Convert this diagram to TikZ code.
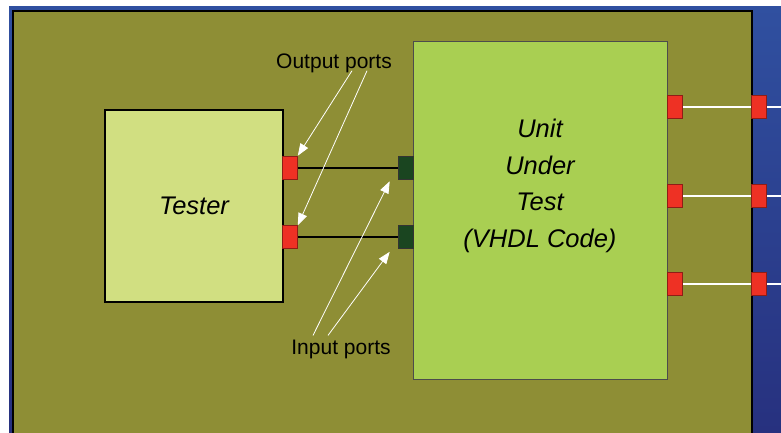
\documentclass[tikz,border=0pt]{standalone}
\usepackage{fontspec}
\setmainfont{Liberation Sans}
\usepackage{xcolor}
\usepackage{tikz}
\usetikzlibrary{arrows.meta,positioning,calc}
\definecolor{bluetop}{HTML}{3050A0}
\definecolor{bluebot}{HTML}{27317F}
\definecolor{olive}{HTML}{8E8E35}
\definecolor{testerfill}{HTML}{D1DF81}
\definecolor{uutfill}{HTML}{A9CF52}
\definecolor{portred}{HTML}{EE3124}
\definecolor{portgreen}{HTML}{1A4520}
\tikzset{
  blk/.style={draw=black,align=center,inner sep=0pt,
              font=\itshape\fontsize{25.5}{36.5}\selectfont},
  tester/.style={blk,fill=testerfill,line width=1.8pt,minimum width=178pt,minimum height=192pt},
  uut/.style={blk,fill=uutfill,draw=black!70,line width=0.6pt,minimum width=254pt,minimum height=338pt},
  outport/.style={draw=portred!60!black,fill=portred,line width=0.6pt,minimum width=15pt,minimum height=23pt,inner sep=0pt},
  inport/.style={outport,draw=black!80,fill=portgreen},
  lbl/.style={inner sep=0pt,font=\fontsize{21}{24}\selectfont},
  wire/.style={line width=2pt,black},
  wwire/.style={line width=2pt,white},
  ptr/.style={-{Triangle[length=12pt,width=9pt]},white,line width=0.8pt},
}
\begin{document}
\begin{tikzpicture}[x=1pt,y=-1pt]
\useasboundingbox (0,0) rectangle (781,432);
\fill[white] (0,0) rectangle (781,432);
\shade[top color=bluetop,bottom color=bluebot] (9,6) rectangle (781,432);
\filldraw[fill=olive,draw=black,line width=2.5pt] (13,11) rectangle (752,445);

\node[tester] (tester) at (194,206) {Tester};
\node[outport] (t1) at (290,167.5) {};
\node[outport] (t2) at (290,237) {};

\node[uut] (uut) at (540,210) {};
\node[blk,draw=none] (uuttext) at (540,186) {Unit\\Under\\Test\\(VHDL Code)};
\node[inport] (g1) at (405.5,167.5) {};
\node[inport] (g2) at (405.5,237) {};

\node[outport] (u1) at (675,106.5) {};
\node[outport] (u2) at (675,195.5) {};
\node[outport] (u3) at (675,283.5) {};
\node[outport] (x1) at (759,106.5) {};
\node[outport] (x2) at (759,195.5) {};
\node[outport] (x3) at (759,283.5) {};
\coordinate (e1) at (781,106.5);
\coordinate (e2) at (781,195.5);
\coordinate (e3) at (781,283.5);

\draw[wire] (t1.east) -- (g1.west);
\draw[wire] (t2.east) -- (g2.west);
\draw[wwire] (u1.east) -- (x1.west);
\draw[wwire] (u2.east) -- (x2.west);
\draw[wwire] (u3.east) -- (x3.west);
\draw[wwire] (x1.east) -- (e1);
\draw[wwire] (x2.east) -- (e2);
\draw[wwire] (x3.east) -- (e3);

\node[lbl] (outlbl) at (334,63) {Output ports};
\node[lbl] (inlbl) at (341,349) {Input ports};
\draw[ptr] ([xshift=18pt,yshift=2pt]outlbl.south) -- (t1.north east);
\draw[ptr] ([xshift=33pt,yshift=2pt]outlbl.south) -- (t2.north east);
\draw[ptr] ([xshift=-28pt,yshift=4pt]inlbl.north) -- ([xshift=-8pt,yshift=-2pt]g1.south west);
\draw[ptr] ([xshift=-13pt,yshift=4pt]inlbl.north) -- ([xshift=-8pt,yshift=-3pt]g2.south west);
\end{tikzpicture}
\end{document}
